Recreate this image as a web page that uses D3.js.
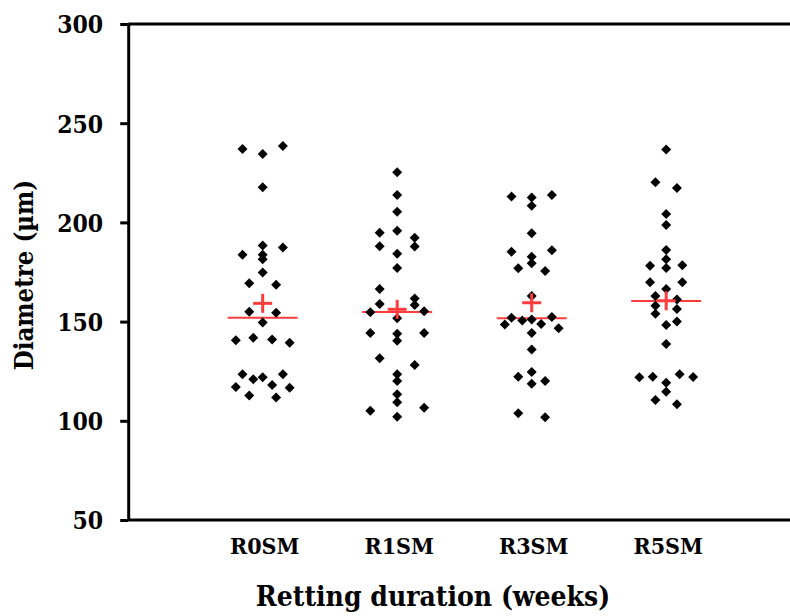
<!DOCTYPE html>
<html>
<head>
<meta charset="utf-8">
<script src="https://cdn.jsdelivr.net/npm/d3@7"></script>
<style>
  html, body { margin: 0; padding: 0; background: #fff; }
  svg { display: block; }
</style>
</head>
<body>
<div id="chart"></div>
<script>
// groups on the x axis (positions 1..4)
const categories = ['R0SM', 'R1SM', 'R3SM', 'R5SM'];

// [jitter (category units), diameter µm]
const r0sm = [
  [-0.15, 237], [0, 234.5], [0.15, 238.5], [0, 217.7], [0, 188.3], [0.15, 187.3],
  [-0.15, 183.7], [0, 183.7], [0, 181.4], [0, 174.8], [-0.1, 169.3], [0.1, 168.6],
  [-0.1, 155], [0.1, 154.5], [0, 149.6], [-0.2, 140.6], [-0.07, 141.9], [0.07, 141],
  [0.2, 139.4], [-0.15, 123.4], [-0.07, 120.9], [0, 121.9], [0.15, 123.4], [-0.2, 117],
  [0.07, 118], [0.2, 116.7], [-0.1, 112.7], [0.1, 111.7]
];
const r1sm = [
  [0, 225.3], [0, 213.8], [0, 205.4], [-0.13, 194.8], [0, 195.8], [0.13, 192.3],
  [-0.13, 188], [0.13, 187.8], [0, 184.2], [0, 177], [-0.13, 166.4], [0.13, 161.7],
  [-0.13, 158.9], [0.13, 158.4], [-0.2, 154.7], [0.2, 155.2], [0, 151.7], [-0.2, 144.3],
  [0, 143.9], [0, 140.4], [0.2, 144.3], [-0.13, 131.5], [0.13, 128.1], [0, 123.4],
  [0, 120.1], [0, 113.4], [0, 109.3], [-0.2, 105.1], [0.2, 106.6], [0, 102.1]
];
const r3sm = [
  [-0.15, 213], [0, 212.6], [0.15, 213.8], [0, 208.4], [0, 194.5], [-0.15, 185.2],
  [0.15, 185.9], [0, 182.7], [0, 179.4], [-0.1, 176.9], [0.1, 175.5], [0, 162.9],
  [-0.15, 152], [0.15, 152.3], [-0.07, 150.5], [0, 151], [-0.2, 148.5], [0.07, 148.8],
  [0.2, 146.6], [0, 144.3], [0, 136], [-0.1, 122.2], [0, 124.6], [0, 118.7],
  [0.1, 120.1], [-0.1, 103.8], [0.1, 101.8]
];
const r5sm = [
  [0, 236.8], [-0.08, 220.2], [0.08, 217.3], [0, 204.2], [0, 198.7], [0, 186.1],
  [0, 181.4], [-0.12, 178.2], [0.12, 178.4], [0, 177], [-0.12, 169.8], [0.12, 169.8],
  [0, 166.4], [-0.08, 162.9], [0.08, 161.2], [-0.08, 158], [0.08, 156.3], [-0.08, 154],
  [0, 148.3], [0.08, 150], [0, 138.7], [-0.2, 121.9], [-0.1, 122.2], [0.1, 123.4],
  [0.2, 122.1], [0, 119.2], [0, 114.7], [-0.08, 110.5], [0.08, 108.3]
];
const medians = [152, 154.8, 151.7, 160.4];
const means = [159.2, 156.2, 159.5, 160.5];
const yTicks = [50, 100, 150, 200, 250, 300];

const W = 790, H = 616;
const FONT = "'DejaVu Serif Condensed', 'DejaVu Serif', serif";
const RED = '#ff3c3c';

const svg = d3.select('#chart').append('svg').attr('width', W).attr('height', H);

const x = d3.scaleLinear().domain([0, 5]).range([128.2, 800.7]);
const y = d3.scaleLinear().domain([50, 300]).range([520, 24]);

// frame: top and bottom lines run to the right edge
svg.append('line').attr('x1', x(0)).attr('x2', W).attr('y1', y(300)).attr('y2', y(300))
  .attr('stroke', '#000').attr('stroke-width', 3);
svg.append('line').attr('x1', x(0)).attr('x2', W).attr('y1', y(50)).attr('y2', y(50))
  .attr('stroke', '#000').attr('stroke-width', 3);

// y axis
const yAxis = svg.append('g').attr('transform', `translate(${x(0)},0)`)
  .call(d3.axisLeft(y).tickValues(yTicks).tickSize(8).tickPadding(17).tickSizeOuter(0));
yAxis.select('.domain').attr('stroke', '#000').attr('stroke-width', 3);
yAxis.selectAll('.tick line').attr('stroke', '#000').attr('stroke-width', 3);
yAxis.selectAll('.tick text')
  .attr('font-family', FONT).attr('font-weight', 700).attr('font-size', 24.5)
  .attr('fill', '#000').attr('dy', '0.36em');

// category labels
svg.append('g').selectAll('text').data(categories).join('text')
  .attr('x', (d, i) => x(i + 1) + 2).attr('y', 554)
  .attr('text-anchor', 'middle')
  .attr('font-family', FONT).attr('font-weight', 700).attr('font-size', 23)
  .text(d => d);

// axis titles
svg.append('text').attr('x', 433).attr('y', 606).attr('text-anchor', 'middle')
  .attr('font-family', FONT).attr('font-weight', 700).attr('font-size', 28)
  .text('Retting duration (weeks)');
svg.append('text').attr('transform', 'translate(33,275) rotate(-90)').attr('text-anchor', 'middle')
  .attr('font-family', FONT).attr('font-weight', 700).attr('font-size', 25.5)
  .text('Diametre (µm)');

// median lines
const medW = 0.26;
svg.append('g').selectAll('line').data(medians).join('line')
  .attr('x1', (d, i) => x(i + 1 - medW)).attr('x2', (d, i) => x(i + 1 + medW))
  .attr('y1', d => y(d)).attr('y2', d => y(d))
  .attr('stroke', RED).attr('stroke-width', 2);

// points
const series = [r0sm, r1sm, r3sm, r5sm];
const diamond = d3.symbol().type(d3.symbolSquare).size(50)();
series.forEach((pts, i) => {
  svg.append('g').selectAll('path').data(pts).join('path')
    .attr('d', diamond)
    .attr('transform', d => `translate(${x(i + 1 + d[0])},${y(d[1])}) rotate(45)`)
    .attr('fill', '#000');
});

// mean markers (+)
const half = 9.5;
const plus = svg.append('g').selectAll('g').data(means).join('g')
  .attr('transform', (d, i) => `translate(${x(i + 1)},${y(d)})`);
plus.append('line').attr('x1', -half).attr('x2', half).attr('stroke', RED).attr('stroke-width', 3);
plus.append('line').attr('y1', -half).attr('y2', half).attr('stroke', RED).attr('stroke-width', 3);
</script>
</body>
</html>
